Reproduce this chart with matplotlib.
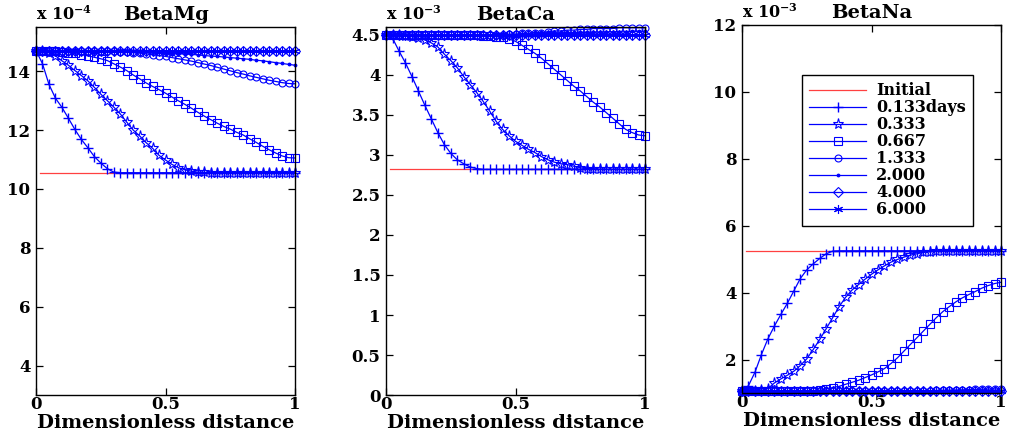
import numpy as np
import matplotlib
matplotlib.use("Agg")
import matplotlib.pyplot as plt
import matplotlib as mpl

mpl.rcParams['font.family'] = 'DejaVu Serif'
mpl.rcParams['font.weight'] = 'bold'
mpl.rcParams['mathtext.fontset'] = 'dejavuserif'
mpl.rcParams['xtick.direction'] = 'in'
mpl.rcParams['ytick.direction'] = 'in'
mpl.rcParams['xtick.top'] = True
mpl.rcParams['ytick.right'] = True
mpl.rcParams['xtick.major.size'] = 5
mpl.rcParams['ytick.major.size'] = 5
mpl.rcParams['axes.linewidth'] = 1.0

fontsize = 12

# dimensionless distance grid (41 nodes)
x = np.linspace(0, 1, 41)
init_x = [0.015, 1.0]

labels = ["Initial", "0.133days", "0.333", "0.667", "1.333", "2.000", "4.000", "6.000"]

# ---- BetaMg (x 1e-4)
mg_init = [10.55, 10.55]
mg_d0133 = [14.70, 14.25, 13.55, 13.08, 12.77, 12.40, 12.02, 11.68, 11.40, 11.10,
            10.88, 10.69, 10.57, 10.55] + [10.55] * 27
mg_d0333 = [14.70, 14.68, 14.62, 14.52, 14.35, 14.20, 14.02, 13.85, 13.67, 13.45,
            13.22, 13.00, 12.78, 12.55, 12.27, 12.00, 11.80, 11.57, 11.38, 11.14,
            10.98, 10.83, 10.72, 10.65, 10.60, 10.57, 10.56] + [10.55] * 14
mg_d0667 = [14.70, 14.70, 14.69, 14.68, 14.66, 14.63, 14.60, 14.56, 14.52, 14.47,
            14.42, 14.36, 14.25, 14.14, 14.02, 13.87, 13.74, 13.60, 13.48, 13.37,
            13.25, 13.12, 12.99, 12.87, 12.74, 12.60, 12.47, 12.35, 12.23, 12.12,
            12.03, 11.92, 11.83, 11.70, 11.58, 11.45, 11.33, 11.22, 11.12, 11.06, 11.05]
mg_d1333 = [14.70] * 8 + [14.69, 14.69, 14.68, 14.68, 14.67, 14.66, 14.65, 14.63, 14.61, 14.59,
                          14.56, 14.53, 14.50, 14.46, 14.42, 14.38, 14.34, 14.29, 14.24, 14.19,
                          14.13, 14.07, 14.01, 13.95, 13.90, 13.84, 13.79, 13.74, 13.69, 13.65,
                          13.61, 13.58, 13.57]
mg_d2000 = [14.70] * 15 + [14.69, 14.68, 14.67, 14.66, 14.65, 14.63, 14.62, 14.60, 14.58, 14.57,
                           14.55, 14.53, 14.51, 14.50, 14.48, 14.46, 14.44, 14.42, 14.40, 14.37,
                           14.35, 14.32, 14.29, 14.26, 14.23, 14.20]
mg_d4000 = [14.70] * 41
mg_d6000 = [14.70] * 41

# ---- BetaCa (x 1e-3)
ca_init = [2.82, 2.82]
ca_d0133 = [4.50, 4.46, 4.30, 4.15, 3.98, 3.80, 3.62, 3.45, 3.28, 3.13,
            3.02, 2.94, 2.89, 2.85, 2.83, 2.82] + [2.82] * 25
ca_d0333 = [4.50, 4.50, 4.50, 4.49, 4.48, 4.46, 4.44, 4.40, 4.35, 4.26,
            4.18, 4.09, 3.98, 3.88, 3.78, 3.67, 3.55, 3.42, 3.32, 3.24,
            3.17, 3.12, 3.07, 3.03, 2.98, 2.94, 2.91, 2.89, 2.88, 2.86,
            2.84, 2.83, 2.83, 2.82] + [2.82] * 7
ca_d0667 = [4.50] * 15 + [4.49, 4.49, 4.48, 4.47, 4.45, 4.42, 4.37, 4.32, 4.27, 4.21,
                          4.14, 4.07, 4.00, 3.93, 3.86, 3.80, 3.73, 3.66, 3.60, 3.53,
                          3.46, 3.39, 3.32, 3.28, 3.25, 3.24]
ca_d1333 = [4.50] * 19 + [4.51, 4.51, 4.52, 4.52, 4.53, 4.53, 4.54, 4.55, 4.55, 4.56,
                          4.56, 4.57, 4.57, 4.58, 4.58, 4.58, 4.58, 4.59, 4.59, 4.59,
                          4.59, 4.59]
ca_d2000 = [4.50] * 21 + [4.505, 4.51, 4.51, 4.515, 4.52, 4.52, 4.52, 4.525, 4.53, 4.53,
                          4.53, 4.535, 4.535, 4.54, 4.54, 4.54, 4.54, 4.545, 4.545, 4.545]
ca_d4000 = [4.50] * 41
ca_d6000 = [4.50] * 41

# ---- BetaNa (x 1e-3)
na_init = [5.25, 5.25]
na_d0133 = [1.05, 1.22, 1.62, 2.15, 2.62, 3.00, 3.35, 3.68, 4.05, 4.42,
            4.68, 4.86, 5.02, 5.16, 5.24] + [5.25] * 26
na_d0333 = [1.05, 1.05, 1.06, 1.08, 1.13, 1.30, 1.42, 1.53, 1.65, 1.82,
            2.02, 2.30, 2.60, 2.92, 3.25, 3.58, 3.86, 4.08, 4.24, 4.40,
            4.55, 4.68, 4.80, 4.91, 4.99, 5.06, 5.12, 5.16, 5.20, 5.22,
            5.24] + [5.25] * 10
na_d0667 = [1.05] * 11 + [1.06, 1.08, 1.12, 1.16, 1.20, 1.26, 1.32, 1.38, 1.46, 1.54,
                          1.63, 1.73, 1.88, 2.05, 2.25, 2.45, 2.65, 2.85, 3.05, 3.25,
                          3.43, 3.58, 3.72, 3.84, 3.94, 4.03, 4.13, 4.21, 4.27, 4.31]
na_d1333 = [1.05] * 25 + [1.055, 1.06, 1.06, 1.065, 1.07, 1.075, 1.08, 1.085, 1.09, 1.095,
                          1.10, 1.105, 1.11, 1.115, 1.12, 1.12]
na_d2000 = [1.05] * 41
na_d4000 = [1.05] * 41
na_d6000 = [1.05] * 41

panels = [
    ("BetaMg", -4, (3, 15.5), [4, 6, 8, 10, 12, 14], ["4", "6", "8", "10", "12", "14"],
     [mg_init, mg_d0133, mg_d0333, mg_d0667, mg_d1333, mg_d2000, mg_d4000, mg_d6000]),
    ("BetaCa", -3, (0, 4.6), [0, 0.5, 1, 1.5, 2, 2.5, 3, 3.5, 4, 4.5],
     ["0", "0.5", "1", "1.5", "2", "2.5", "3", "3.5", "4", "4.5"],
     [ca_init, ca_d0133, ca_d0333, ca_d0667, ca_d1333, ca_d2000, ca_d4000, ca_d6000]),
    ("BetaNa", -3, (1, 12), [2, 4, 6, 8, 10, 12], ["2", "4", "6", "8", "10", "12"],
     [na_init, na_d0133, na_d0333, na_d0667, na_d1333, na_d2000, na_d4000, na_d6000]),
]

styles = [
    dict(marker='+', markersize=7.5, markeredgewidth=1.0),
    dict(marker='*', markersize=8, markerfacecolor='none', markeredgewidth=0.8),
    dict(marker='s', markersize=6, markerfacecolor='none', markeredgewidth=0.8),
    dict(marker='o', markersize=5, markerfacecolor='none', markeredgewidth=0.8),
    dict(marker='.', markersize=3.5),
    dict(marker='D', markersize=5, markerfacecolor='none', markeredgewidth=0.8),
    dict(marker=(6, 2, 0), markersize=6.5, markeredgewidth=0.8),
]

fig = plt.figure(figsize=(10.09, 4.32), dpi=100)
lefts = [0.0357, 0.3826, 0.7354]
bottoms = [0.0856, 0.0856, 0.0903]
heights = [0.852, 0.852, 0.852]

for k, (title, expo, ylim, yt, ytl, series) in enumerate(panels):
    ax = fig.add_axes([lefts[k], bottoms[k], 0.2567, heights[k]])
    ax.plot(init_x, series[0], color='#ff4040', linewidth=0.9, label=labels[0])
    for j in range(1, 8):
        ax.plot(x, series[j], color='blue', linewidth=0.9, label=labels[j],
                clip_on=False, **styles[j - 1])
    ax.set_xlim(0, 1)
    ax.set_ylim(*ylim)
    ax.set_xticks([0, 0.5, 1])
    ax.set_xticklabels(["0", "0.5", "1"], fontsize=fontsize, fontweight='bold')
    ax.set_yticks(yt)
    ax.set_yticklabels(ytl, fontsize=fontsize, fontweight='bold')
    ax.tick_params(axis='y', pad=4, width=0.9)
    ax.tick_params(axis='x', pad=1, width=0.9)
    ax.set_title(title, fontsize=14, fontweight='bold', pad=5)
    ax.set_xlabel("Dimensionless distance", fontsize=14, fontweight='bold', labelpad=0.5)
    ax.text(0.0, 1.008, r"x 10$^{%d}$" % expo, transform=ax.transAxes,
            ha='left', va='bottom', fontsize=11.5, fontweight='bold')
    if k == 2:
        leg = ax.legend(loc='upper left', bbox_to_anchor=(0.2, 0.885), fontsize=11.5,
                        handlelength=3.6, labelspacing=0.0, borderpad=0.45,
                        handletextpad=0.6, fancybox=False, edgecolor='black', framealpha=1)
        leg.get_frame().set_linewidth(1.0)

plt.savefig("out.png", dpi=100)
